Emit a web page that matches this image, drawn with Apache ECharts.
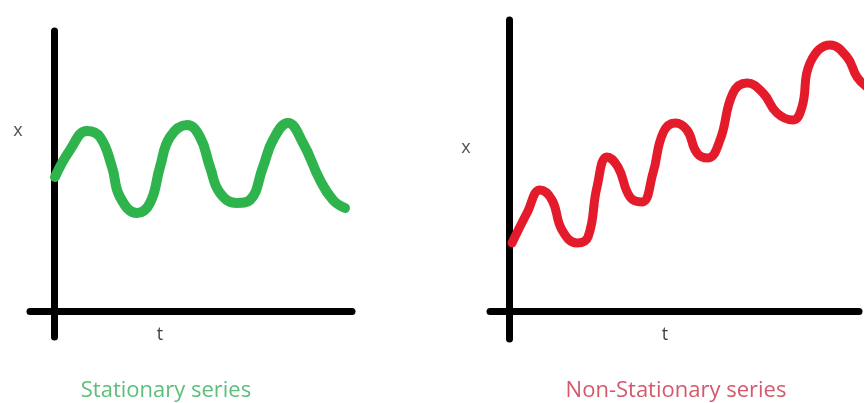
<!DOCTYPE html>
<html>
<head>
<meta charset="utf-8">
<script src="https://cdn.jsdelivr.net/npm/echarts@6/dist/echarts.min.js"></script>
<style>
html,body{margin:0;padding:0;background:#fff;}
#chart{width:868px;height:403px;}
</style>
</head>
<body>
<div id="chart"></div>
<script>
// Stationary series (left panel): time t and value x
var stationaryT = [0.1,1.6,3.3,4.6,5.8,6.6,8.3,9.6,10.6,11.6,13.3,14.6,15.6,16.6,18.3,19.6,20.9,21.9,23.4,24.9,26.6,27.9,29.1];
var stationaryX = [13.4,16.1,18.0,17.4,14.4,11.4,9.8,10.8,14.4,17.4,18.6,17.4,14.4,11.8,10.8,11.1,14.4,17.1,18.8,16.8,13.1,11.1,10.3];

// Non-stationary series (right panel)
var nonStationaryT = [0.3,1.8,3.1,4.3,5.3,6.8,7.9,8.8,9.8,10.9,12.1,13.3,14.4,15.4,16.6,17.8,18.8,19.9,21.1,22.4,23.8,25.4,26.8,28.4,29.3,30.1,32.1,33.8,34.8,35.8];
var nonStationaryX = [6.8,9.8,12.1,11.1,8.1,6.8,7.4,12.4,15.4,14.4,11.4,10.9,13.8,17.8,18.8,18.1,15.8,15.3,17.1,21.8,22.8,21.8,19.8,19.1,20.4,24.8,26.6,25.4,23.4,22.4];

var panelTitles = ['Stationary series', 'Non-Stationary series'];
var axisNameX = 'x';
var axisNameT = 't';

function pairs(ts, xs){ return ts.map(function(t,i){ return [t, xs[i]]; }); }

var axisLineStyle = {show:true, onZero:true, lineStyle:{color:'#000', width:7, cap:'round'}};
function hiddenAxis(extra){
  return Object.assign({
    type:'value',
    axisLine: axisLineStyle,
    axisTick:{show:false},
    axisLabel:{show:false},
    splitLine:{show:false}
  }, extra);
}

var chart = echarts.init(document.getElementById('chart'), null, {renderer:'canvas'});
var nameFont = '18px "Open Sans"';
var titleFont = '22px "Open Sans"';
chart.setOption({
  backgroundColor:'#fff',
  animation:false,
  grid:[
    {left:30, top:31, width:322, height:306},
    {left:490, top:20, width:369, height:319}
  ],
  xAxis:[
    hiddenAxis({gridIndex:0, min:-2.4, max:29.8}),
    hiddenAxis({gridIndex:1, min:-1.9, max:35})
  ],
  yAxis:[
    hiddenAxis({gridIndex:0, min:-2.6, max:28}),
    hiddenAxis({gridIndex:1, min:-2.8, max:29.1})
  ],
  series:[
    {type:'line', xAxisIndex:0, yAxisIndex:0, data:pairs(stationaryT, stationaryX),
     smooth:0.45, showSymbol:false, clip:false,
     lineStyle:{color:'#2fb34c', width:10, cap:'round', join:'round'}},
    {type:'line', xAxisIndex:1, yAxisIndex:1, data:pairs(nonStationaryT, nonStationaryX),
     smooth:0.45, showSymbol:false, clip:false,
     lineStyle:{color:'#e41b2a', width:9, cap:'round', join:'round'}}
  ],
  graphic:[
    {type:'text', x:18, y:131, style:{text:axisNameX, fill:'#555', font:nameFont, textAlign:'center', textVerticalAlign:'middle'}},
    {type:'text', x:466, y:148, style:{text:axisNameX, fill:'#555', font:nameFont, textAlign:'center', textVerticalAlign:'middle'}},
    {type:'text', x:160, y:335, style:{text:axisNameT, fill:'#444', font:nameFont, textAlign:'center', textVerticalAlign:'middle'}},
    {type:'text', x:665, y:335, style:{text:axisNameT, fill:'#444', font:nameFont, textAlign:'center', textVerticalAlign:'middle'}},
    {type:'text', x:166, y:391, style:{text:panelTitles[0], fill:'#5bbf79', font:titleFont, textAlign:'center', textVerticalAlign:'middle'}},
    {type:'text', x:676, y:391, style:{text:panelTitles[1], fill:'#d4596b', font:titleFont, textAlign:'center', textVerticalAlign:'middle'}}
  ]
});
</script>
</body>
</html>
